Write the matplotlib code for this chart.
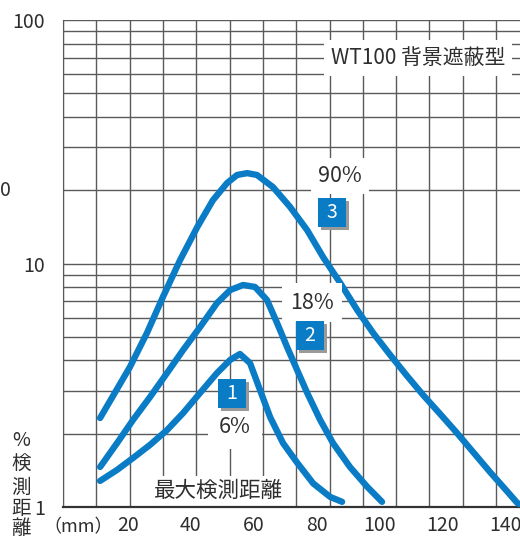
import matplotlib
matplotlib.use('Agg')
import matplotlib.pyplot as plt
import matplotlib.patheffects as pe
import numpy as np

plt.rcParams['font.family'] = ['Noto Sans CJK JP', 'DejaVu Sans']

# distance (mm) vs max detection distance (%)
x_90 = [11.1, 20.6, 26.0, 31.1, 36.5, 42.0, 47.0, 51.5, 54.7, 57.9, 61.0, 66.1, 71.5,
        77.0, 82.1, 87.5, 92.9, 98.0, 103.4, 108.8, 113.9, 119.3, 124.7, 129.8, 135.2, 140.6,
        143.8, 145.5]
y_90 = [2.32, 3.76, 5.18, 7.29, 10.3, 14.1, 18.2, 21.4, 23.1, 23.5, 23.1, 20.6, 17.1,
        13.7, 10.6, 8.32, 6.44, 5.18, 4.21, 3.45, 2.88, 2.41, 2.01, 1.68, 1.39, 1.16,
        1.04, 1.01]

x_18 = [11.1, 16.5, 21.6, 27.0, 32.4, 37.5, 42.9, 48.3, 52.5, 56.6, 60.4, 64.2, 67.4, 70.6,
        73.8, 77.0, 81.1, 85.2, 90.6, 96.1, 100.8]
y_18 = [1.46, 1.83, 2.28, 2.83, 3.55, 4.41, 5.48, 6.88, 7.78, 8.16, 8.01, 7.08, 5.70, 4.54,
        3.65, 2.94, 2.28, 1.83, 1.46, 1.21, 1.05]

x_6 = [11.1, 16.5, 21.6, 27.0, 32.4, 37.5, 42.9, 48.3, 52.5, 55.6, 58.8, 62.0, 65.2, 69.3,
       73.8, 78.9, 84.3, 88.1]
y_6 = [1.28, 1.42, 1.59, 1.80, 2.07, 2.43, 2.94, 3.55, 4.02, 4.25, 3.90, 3.02, 2.34, 1.83,
       1.52, 1.25, 1.10, 1.05]

xticks = [20, 40, 60, 80, 100, 120, 140]
yticks = [1, 10, 100]

blue = '#0a7cc6'
grid_c = '#5a5a5a'
text_c = '#2e2e2e'

W, H = 520, 538
fig = plt.figure(figsize=(W / 100, H / 100), dpi=100)
ax = fig.add_axes([63 / W, 1 - 507 / H, (W - 63) / W, (507 - 20) / H])

ax.set_yscale('log')
ax.set_xlim(-0.7, 144.7)
ax.set_ylim(1, 100)

# grid: vertical lines every grid cell, horizontal on log decades + minors
for gx in np.arange(-0.7, 144.7, 10.6):
    ax.axvline(gx, color=grid_c, lw=1.0, zorder=1)
for dec in [1, 10]:
    for m in range(2, 11):
        ax.axhline(dec * m, color=grid_c, lw=1.0, zorder=1)

for xs, ys in [(x_90, y_90), (x_18, y_18), (x_6, y_6)]:
    ax.plot(xs, ys, color=blue, lw=4.6, solid_capstyle='round',
            solid_joinstyle='round', zorder=3)

ax.set_xticks(xticks)
ax.set_xticklabels([str(t) for t in xticks])
ax.set_yticks(yticks)
ax.set_yticklabels(['1', '10', '100'])
ax.minorticks_off()
ax.tick_params(axis='both', length=0, labelsize=14, colors=text_c)
ax.tick_params(axis='x', pad=6)
ax.tick_params(axis='y', pad=13)

for s in ['top', 'right']:
    ax.spines[s].set_visible(False)
ax.spines['left'].set_color(grid_c)
ax.spines['bottom'].set_color('#333333')
ax.spines['bottom'].set_linewidth(1.6)

ax.text(112.3, 69.8, 'WT100 背景遮蔽型', ha='center', va='center', fontsize=15,
        color=text_c, bbox=dict(facecolor='white', edgecolor='none', pad=5), zorder=4)
ax.text(87.5, 22.8, '90%', ha='center', va='center', fontsize=15.5,
        color=text_c, bbox=dict(facecolor='white', edgecolor='none', pad=5), zorder=4)
ax.text(78.5, 6.91, '18%', ha='center', va='center', fontsize=15.5,
        color=text_c, bbox=dict(facecolor='white', edgecolor='none', pad=6), zorder=4)
ax.text(54.0, 2.13, '6%', ha='center', va='center', fontsize=15.5,
        color=text_c, bbox=dict(facecolor='white', edgecolor='none', pad=8), zorder=4)
ax.text(48.7, 1.16, '最大検測距離', ha='center', va='center', fontsize=15.5,
        color=text_c, bbox=dict(facecolor='white', edgecolor='none', pad=3), zorder=2)

# numbered markers
for num, bx, by in [('3', 84.9, 16.2), ('2', 77.9, 5.06), ('1', 53.1, 2.92)]:
    ax.plot([bx], [by], marker='s', ms=20.5, mfc=blue, mec='none', zorder=5,
            path_effects=[pe.withSimplePatchShadow(offset=(2.2, -2.2),
                                                   shadow_rgbFace='#9a9a9a', alpha=1.0)])
    ax.text(bx, by, num, ha='center', va='center', fontsize=14, color='white', zorder=6)

# left axis caption
for ch, py in [('%', 440), ('検', 463), ('測', 487), ('距', 508), ('離', 529)]:
    fig.text(21 / W, 1 - py / H, ch, ha='center', va='center', fontsize=14, color=text_c)
fig.text(78 / W, 1 - 527 / H, '（mm）', ha='center', va='center', fontsize=13, color=text_c)
fig.text(0, 1 - 190 / H, '0', ha='left', va='center', fontsize=14, color=text_c)

fig.savefig('out.png', dpi=100)
